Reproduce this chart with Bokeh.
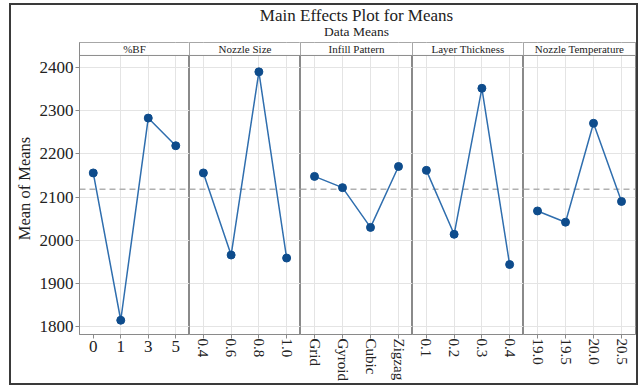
from bokeh.plotting import figure
from bokeh.layouts import row, column
from bokeh.models import FactorRange, Range1d, FixedTicker, Span, Grid, ColumnDataSource
from bokeh.core.properties import value
from bokeh.embed import file_html
from bokeh.resources import INLINE

title_text = "Main Effects Plot for Means"
subtitle_text = "Data Means"
y_label = "Mean of Means"

factor_names = ["%BF", "Nozzle Size", "Infill Pattern", "Layer Thickness", "Nozzle Temperature"]

bf_levels = ["0", "1", "3", "5"]
bf_means = [2156, 1815, 2283, 2219]

ns_levels = ["0.4", "0.6", "0.8", "1.0"]
ns_means = [2156, 1966, 2390, 1959]

ip_levels = ["Grid", "Gyroid", "Cubic", "Zigzag"]
ip_means = [2148, 2122, 2030, 2171]

lt_levels = ["0.1", "0.2", "0.3", "0.4"]
lt_means = [2162, 2014, 2352, 1944]

nt_levels = ["19.0", "19.5", "20.0", "20.5"]
nt_means = [2068, 2042, 2271, 2090]

y_ticks = [1800, 1900, 2000, 2100, 2200, 2300, 2400]
grand_mean = 2118

all_levels = [bf_levels, ns_levels, ip_levels, lt_levels, nt_levels]
all_means = [bf_means, ns_means, ip_means, lt_means, nt_means]

FONT = "Liberation Serif"
Y_LO, Y_HI = 1782, 2458
HEAD_LO = 2428
FRAME_COL = "#8a8a8a"
LINE_COL = "#2f6eae"
MARK_COL = "#0e4c8c"

yr = Range1d(Y_LO, Y_HI)
frame_w = [112, 111, 112, 111, 112]

panels = []
for k, (name, lv, mv) in enumerate(zip(factor_names, all_levels, all_means)):
    left = 66 if k == 0 else 0
    right = 1 if k == 4 else 0
    p = figure(width=frame_w[k] + left + right, height=341,
               x_range=FactorRange(factors=lv), y_range=yr,
               output_backend="svg", toolbar_location=None,
               min_border=0, min_border_left=left, min_border_right=right,
               min_border_top=0, min_border_bottom=47,
               y_axis_type="linear" if k == 0 else None)
    p.background_fill_color = "white"
    p.border_fill_color = "white"
    p.outline_line_color = FRAME_COL
    p.outline_line_width = 1

    p.xgrid.grid_line_color = "#e4e4e4"
    if k == 0:
        p.yaxis.ticker = FixedTicker(ticks=y_ticks)
        p.ygrid.grid_line_color = "#e4e4e4"
        ax = p.yaxis[0]
        ax.axis_label = y_label
        ax.axis_label_text_font = FONT
        ax.axis_label_text_font_size = "16.5px"
        ax.axis_label_text_font_style = "normal"
        ax.axis_label_text_color = "#222222"
        ax.axis_label_standoff = 3
        ax.major_label_text_font = FONT
        ax.major_label_text_font_size = "17px"
        ax.major_label_text_color = "#222222"
        ax.major_label_standoff = 2
        ax.major_tick_out = 4
        ax.major_tick_in = 0
        ax.minor_tick_out = 0
        ax.minor_tick_in = 0
        ax.axis_line_color = FRAME_COL
        ax.major_tick_line_color = FRAME_COL
    else:
        p.add_layout(Grid(dimension=1, ticker=FixedTicker(ticks=y_ticks),
                          grid_line_color="#e4e4e4"))

    xa = p.xaxis[0]
    xa.major_label_text_font = FONT
    xa.major_label_text_color = "#222222"
    xa.major_tick_out = 4
    xa.major_tick_in = 0
    xa.axis_line_color = FRAME_COL
    xa.major_tick_line_color = FRAME_COL
    if k == 0:
        xa.major_label_text_font_size = "17px"
        xa.major_label_standoff = 2
    else:
        xa.major_label_text_font_size = "15px"
        xa.major_label_standoff = 0
        xa.major_label_orientation = "vertical"

    # header strip (single-factor range spanning the panel)
    p.extra_x_ranges = {"u": FactorRange(factors=["h"])}
    p.rect(x=["h"], y=[(HEAD_LO + Y_HI) / 2], width=1, height=Y_HI - HEAD_LO,
           x_range_name="u", fill_color="white", line_color=None)
    p.add_layout(Span(location=HEAD_LO, dimension="width", line_color=FRAME_COL, line_width=1))
    p.text(x=["h"], y=[(HEAD_LO + Y_HI) / 2], text=[name], x_range_name="u",
           text_font=value(FONT), text_font_size="11px", text_align="center",
           text_baseline="middle", text_color="#222222")

    p.add_layout(Span(location=grand_mean, dimension="width", line_color="#b0b0b0",
                      line_dash="6 4", line_width=1.5, level="underlay"))

    src = ColumnDataSource(dict(level=lv, mean=mv))
    p.line("level", "mean", source=src, line_color=LINE_COL, line_width=1.5)
    p.scatter("level", "mean", source=src, size=8, fill_color=MARK_COL, line_color=MARK_COL)
    panels.append(p)

t = figure(width=626 - 1, height=37, x_range=Range1d(0, 1), y_range=Range1d(37, 0),
           output_backend="svg", toolbar_location=None, min_border=0,
           min_border_left=66, min_border_right=1, min_border_top=0, min_border_bottom=0,
           x_axis_type=None, y_axis_type=None)
t.outline_line_color = None
t.text(x=[0.5], y=[10], text=[title_text], text_font=value(FONT), text_font_size="17px",
       text_align="center", text_baseline="middle", text_color="#222222")
t.text(x=[0.5], y=[26], text=[subtitle_text], text_font=value(FONT), text_font_size="13.5px",
       text_align="center", text_baseline="middle", text_color="#222222")

layout = column(t, row(*panels),
                styles={"border": "2px solid #3a3a3a", "margin-top": "3px",
                        "margin-left": "9px", "margin-bottom": "0px"})

open("out.html", "w").write(file_html(layout, INLINE))
